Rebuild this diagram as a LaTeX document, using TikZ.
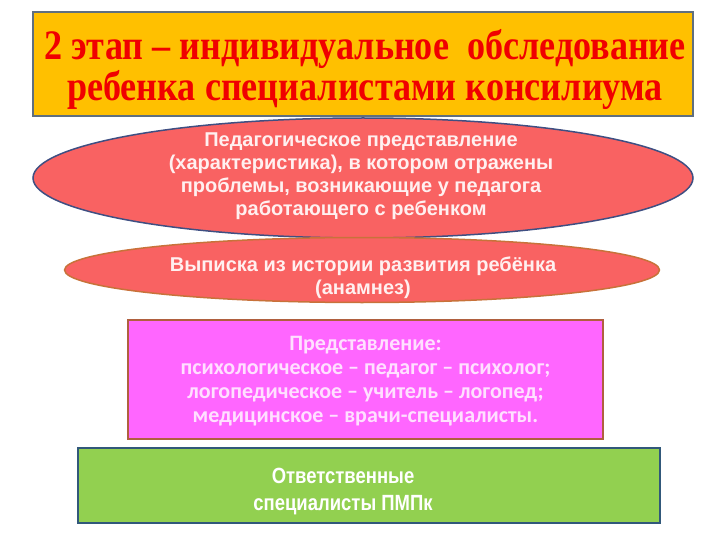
\documentclass[tikz,border=0pt]{standalone}
\usepackage{fontspec}
\setmainfont{Liberation Serif}
\newfontfamily\titlefont[FakeStretch=0.86]{Liberation Serif}
\newfontfamily\bodyfont{Liberation Sans}
\newfontfamily\greenfont[FakeStretch=0.84]{Liberation Sans}
\newfontfamily\pinkfont{Carlito}
\usetikzlibrary{shapes.geometric}
\definecolor{titlefill}{HTML}{FFC000}
\definecolor{titleborder}{HTML}{5F6F7F}
\definecolor{titletext}{HTML}{F00000}
\definecolor{redfill}{HTML}{F96262}
\definecolor{ellborder}{HTML}{3F4F82}
\definecolor{ell2border}{HTML}{C8723A}
\definecolor{lighttext}{HTML}{FFF0F0}
\definecolor{pinkfill}{HTML}{FF66FF}
\definecolor{pinkborder}{HTML}{B0603F}
\definecolor{pinktext}{HTML}{FFE0FF}
\definecolor{greenfill}{HTML}{92D050}
\definecolor{greenborder}{HTML}{31587A}
\tikzset{
  boxshape/.style={draw, line width=2pt, inner sep=0pt, outer sep=0pt},
  ellshape/.style={ellipse, draw, line width=1.5pt, inner sep=0pt, outer sep=0pt, fill=redfill},
}
\begin{document}
\begin{tikzpicture}[x=1pt,y=-1pt]
\useasboundingbox (0,0) rectangle (720,540);
% title
\node[boxshape, draw=titleborder, fill=titlefill, minimum width=660pt, minimum height=104pt] (title) at (363,64) {};
\node[text=titletext, font=\titlefont\bfseries\fontsize{42}{41}\selectfont, align=center] (titletxt) at (365,70) {2 этап – индивидуальное\ \ обследование\\ребенка специалистами консилиума};
% ellipse 1
\node[ellshape, draw=ellborder, minimum width=660pt, minimum height=120pt] (e1) at (363,178) {};
\node[text=lighttext, font=\bodyfont\bfseries\fontsize{20}{23}\selectfont, align=center] (e1txt) at (361,176) {Педагогическое представление\\(характеристика), в котором отражены\\проблемы, возникающие у педагога\\работающего с ребенком};
% ellipse 2
\node[ellshape, draw=ell2border, minimum width=595pt, minimum height=65pt] (e2) at (362,270) {};
\node[text=lighttext, font=\bodyfont\bfseries\fontsize{20}{23}\selectfont, align=center] (e2txt) at (363,278) {Выписка из истории развития ребёнка\\(анамнез)};
% pink box
\node[boxshape, draw=pinkborder, fill=pinkfill, minimum width=475pt, minimum height=119pt] (pink) at (365.5,379.5) {};
\node[text=pinktext, font=\pinkfont\bfseries\fontsize{22}{24}\selectfont, align=center] (pinktxt) at (365.5,381) {Представление:\\психологическое – педагог – психолог;\\логопедическое – учитель – логопед;\\медицинское – врачи-специалисты.};
% green box
\node[boxshape, draw=greenborder, fill=greenfill, minimum width=582pt, minimum height=75pt] (green) at (369,485.5) {};
\node[text=white, font=\greenfont\bfseries\fontsize{22}{27}\selectfont, align=center] (greentxt) at (343,492) {Ответственные\\специалисты ПМПк};
\end{tikzpicture}
\end{document}
